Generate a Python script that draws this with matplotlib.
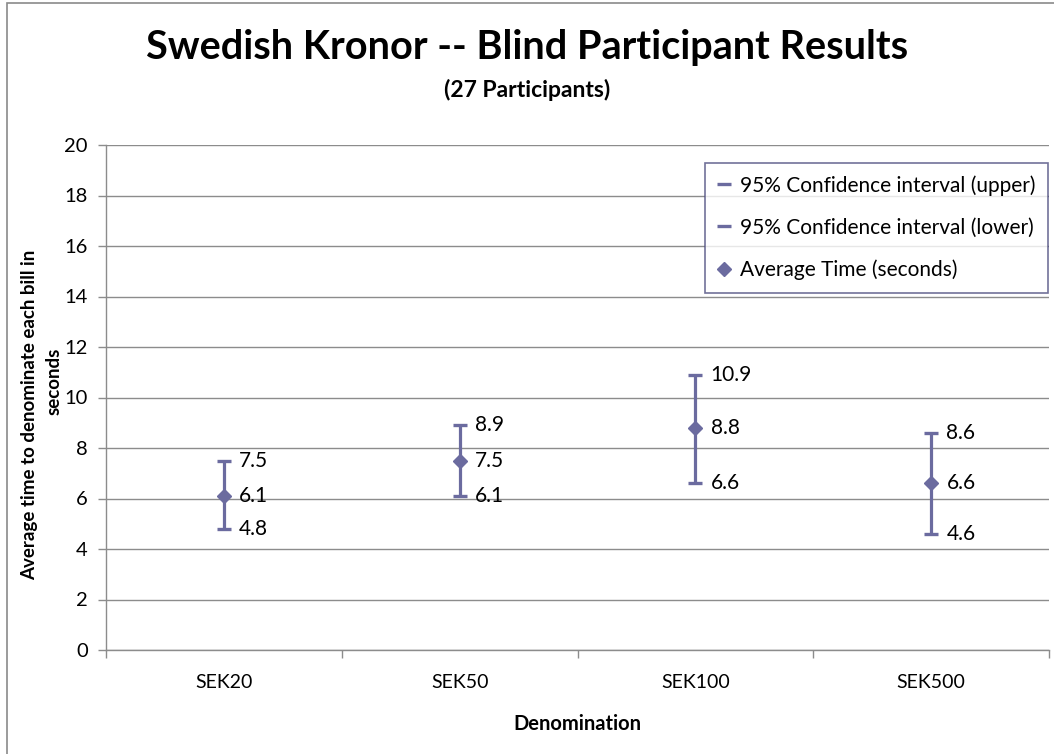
import matplotlib.pyplot as plt
from matplotlib.patches import Rectangle
import numpy as np

plt.rcParams['font.family'] = ['Lato', 'DejaVu Sans']

# data
categories = ['SEK20', 'SEK50', 'SEK100', 'SEK500']
avg_time = [6.1, 7.5, 8.8, 6.6]
ci_upper = [7.5, 8.9, 10.9, 8.6]
ci_lower = [4.8, 6.1, 6.6, 4.6]

series_color = '#6B6B9F'
grid_color = '#8C8C8C'

W, H = 1054, 754
fig = plt.figure(figsize=(W / 100, H / 100), dpi=100)
fig.patch.set_facecolor('white')

# outer chart border (cropped on right and bottom in the original)
fig.patches.append(Rectangle((7 / W, -0.1), 1.2, (H - 3) / H + 0.1,
                             transform=fig.transFigure, fill=False,
                             edgecolor='#8A8A8A', linewidth=1.2))

left, right, top, bottom = 106, 1049, 145, 650
ax = fig.add_axes([left / W, 1 - bottom / H, (right - left) / W, (bottom - top) / H])

x = np.arange(len(categories))

# high-low lines
ax.vlines(x, ci_lower, ci_upper, color=series_color, linewidth=2.3, zorder=3)
ax.plot(x, ci_upper, linestyle='none', marker='_', markersize=10,
        markeredgewidth=2.4, color=series_color, zorder=4,
        label='95% Confidence interval (upper)')
ax.plot(x, ci_lower, linestyle='none', marker='_', markersize=10,
        markeredgewidth=2.4, color=series_color, zorder=4,
        label='95% Confidence interval (lower)')
ax.plot(x, avg_time, linestyle='none', marker='D', markersize=7.5,
        color=series_color, markeredgecolor=series_color, zorder=5,
        label='Average Time (seconds)')

# data labels to the right of each point
for vals in (ci_upper, avg_time, ci_lower):
    for xi, v in zip(x, vals):
        ax.annotate(f'{v:.1f}', (xi, v), xytext=(11, 0), textcoords='offset points',
                    ha='left', va='center', fontsize=15, color='black')

ax.set_xlim(-0.5, len(categories) - 0.5)
ax.set_ylim(0, 20)
ax.set_yticks(np.arange(0, 21, 2))
ax.set_xticks(np.arange(-0.5, len(categories), 1.0))
ax.set_xticklabels([])
ax.set_xticks(x, minor=True)
ax.set_xticklabels(categories, minor=True)

ax.grid(axis='y', color=grid_color, linewidth=1.0)
ax.set_axisbelow(True)
for s in ('top', 'right'):
    ax.spines[s].set_visible(False)
for s in ('left', 'bottom'):
    ax.spines[s].set_color(grid_color)
    ax.spines[s].set_linewidth(1.0)

ax.tick_params(axis='y', which='major', direction='out', length=6, width=1,
               color=grid_color, labelsize=14.5, pad=7)
ax.tick_params(axis='x', which='major', direction='out', length=6, width=1,
               color=grid_color)
ax.tick_params(axis='x', which='minor', length=0, labelsize=14, pad=17)

fig.text((right + left) / 2 / W, 1 - 724 / H, 'Denomination', ha='center', va='center',
         fontsize=14.5, fontweight='bold')

# y axis title, wrapped over two lines like the original
fig.text(30 / W, 1 - 415 / H, 'Average time to denominate each bill in', rotation=90,
         ha='center', va='center', fontsize=13.5, fontweight='bold')
fig.text(54 / W, 1 - 381 / H, 'seconds', rotation=90,
         ha='center', va='center', fontsize=13.5, fontweight='bold')

leg = ax.legend(loc='upper right', bbox_to_anchor=(0.9985, 0.965), fontsize=15,
                frameon=True, fancybox=False, handlelength=0.6, handletextpad=0.45,
                borderpad=0.6, labelspacing=1.05, borderaxespad=0)
leg.get_frame().set_edgecolor('#4E4E80')
leg.get_frame().set_linewidth(1.2)

fig.text(0.5, 1 - 48 / H, 'Swedish Kronor -- Blind Participant Results',
         ha='center', va='center', fontsize=28.5, fontweight='bold')
fig.text(0.5, 1 - 90 / H, '(27 Participants)', ha='center', va='center',
         fontsize=16.5, fontweight='bold')

fig.savefig('out.png', dpi=100, facecolor='white')
